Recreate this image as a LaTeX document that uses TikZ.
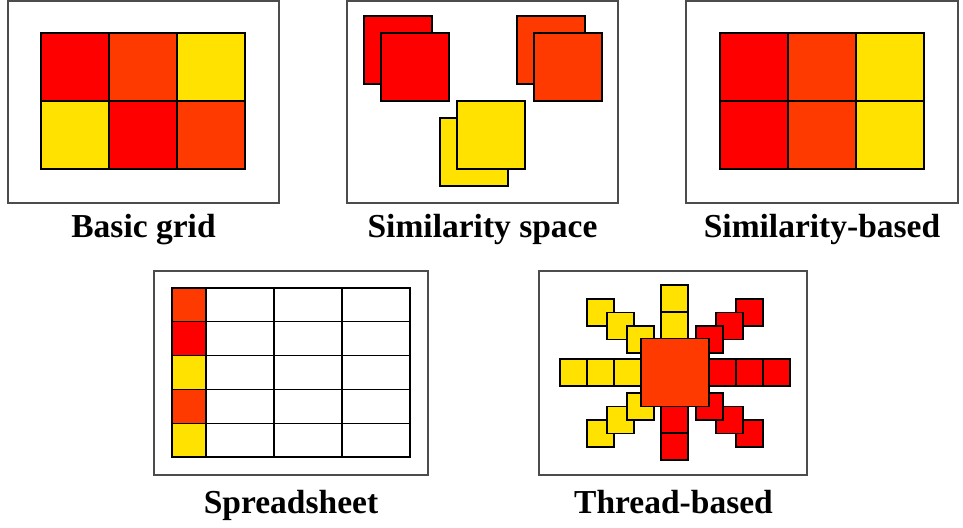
\documentclass[tikz,border=0pt]{standalone}
\usepackage{fontspec}
\setmainfont{Liberation Serif}
\definecolor{myred}{RGB}{255,0,0}
\definecolor{myorange}{RGB}{255,58,0}
\definecolor{myyellow}{RGB}{255,226,0}
\begin{document}
\begin{tikzpicture}[x=1pt,y=-1pt]

\tikzstyle{frame} = [draw=black!70, line width=1.5, fill=white]
\tikzstyle{cell} = [draw=black, line width=1.3]
\tikzstyle{caption} = [anchor=base, inner sep=0,
    font=\fontsize{33.5}{40}\selectfont\bfseries]

\useasboundingbox (0,0) rectangle (963,527);

% =========================
% Basic grid
% =========================
\draw[frame] (8,1) rectangle (279,203);
\draw[cell, fill=myred] (41,33) rectangle (109,101);
\draw[cell, fill=myorange] (109,33) rectangle (177,101);
\draw[cell, fill=myyellow] (177,33) rectangle (245,101);
\draw[cell, fill=myyellow] (41,101) rectangle (109,169);
\draw[cell, fill=myred] (109,101) rectangle (177,169);
\draw[cell, fill=myorange] (177,101) rectangle (245,169);
\node[caption] (basic) at (143.5,237) {Basic grid};

% =========================
% Similarity space
% =========================
\draw[frame] (347,1) rectangle (618,203);
\draw[cell, fill=myred] (364,16) rectangle (432,84);
\draw[cell, fill=myred] (381,33) rectangle (449,101);
\draw[cell, fill=myorange] (517,16) rectangle (585,84);
\draw[cell, fill=myorange] (534,33) rectangle (602,101);
\draw[cell, fill=myyellow] (440,118) rectangle (508,186);
\draw[cell, fill=myyellow] (457,101) rectangle (525,169);
\node[caption] (simspace) at (482.5,237) {Similarity space};

% =========================
% Similarity-based
% =========================
\draw[frame] (686,1) rectangle (958,203);
\draw[cell, fill=myred] (720,33) rectangle (788,101);
\draw[cell, fill=myorange] (788,33) rectangle (856,101);
\draw[cell, fill=myyellow] (856,33) rectangle (924,101);
\draw[cell, fill=myred] (720,101) rectangle (788,169);
\draw[cell, fill=myorange] (788,101) rectangle (856,169);
\draw[cell, fill=myyellow] (856,101) rectangle (924,169);
\node[caption] (simbased) at (822,237) {Similarity-based};

% =========================
% Spreadsheet
% =========================
\draw[frame] (154,271) rectangle (428,475);
\draw[cell, fill=myorange] (172,288) rectangle (206,321.8);
\draw[cell, fill=myred] (172,321.8) rectangle (206,355.6);
\draw[cell, fill=myyellow] (172,355.6) rectangle (206,389.4);
\draw[cell, fill=myorange] (172,389.4) rectangle (206,423.2);
\draw[cell, fill=myyellow] (172,423.2) rectangle (206,457);
\draw[cell] (206,288) rectangle (410,457);
\draw[cell] (274,288) -- (274,457);
\draw[cell] (342,288) -- (342,457);
\draw[cell] (206,321.8) -- (410,321.8);
\draw[cell] (206,355.6) -- (410,355.6);
\draw[cell] (206,389.4) -- (410,389.4);
\draw[cell] (206,423.2) -- (410,423.2);
\node[caption] (sheet) at (291,513) {Spreadsheet};

% =========================
% Thread-based
% =========================
\draw[frame] (539,271) rectangle (807,475);
% diagonals, outer first
\draw[cell, fill=myyellow] (587,299) rectangle (614,326);
\draw[cell, fill=myyellow] (607,312.5) rectangle (634,339.5);
\draw[cell, fill=myyellow] (627,326) rectangle (654,353);
\draw[cell, fill=myred] (736,299) rectangle (763,326);
\draw[cell, fill=myred] (716,312.5) rectangle (743,339.5);
\draw[cell, fill=myred] (696,326) rectangle (723,353);
\draw[cell, fill=myyellow] (587,420) rectangle (614,447);
\draw[cell, fill=myyellow] (607,406.5) rectangle (634,433.5);
\draw[cell, fill=myyellow] (627,393) rectangle (654,420);
\draw[cell, fill=myred] (736,420) rectangle (763,447);
\draw[cell, fill=myred] (716,406.5) rectangle (743,433.5);
\draw[cell, fill=myred] (696,393) rectangle (723,420);
% straight arms
\draw[cell, fill=myyellow] (560,359) rectangle (587,386);
\draw[cell, fill=myyellow] (587,359) rectangle (614,386);
\draw[cell, fill=myyellow] (614,359) rectangle (641,386);
\draw[cell, fill=myred] (709,359) rectangle (736,386);
\draw[cell, fill=myred] (736,359) rectangle (763,386);
\draw[cell, fill=myred] (763,359) rectangle (790,386);
\draw[cell, fill=myyellow] (661,285) rectangle (688,312);
\draw[cell, fill=myyellow] (661,312) rectangle (688,339);
\draw[cell, fill=myred] (661,406) rectangle (688,433);
\draw[cell, fill=myred] (661,433) rectangle (688,460);
% centre
\draw[cell, fill=myorange] (641,338.5) rectangle (709,406.5);
\node[caption] (thread) at (673.5,513) {Thread-based};

\end{tikzpicture}
\end{document}
